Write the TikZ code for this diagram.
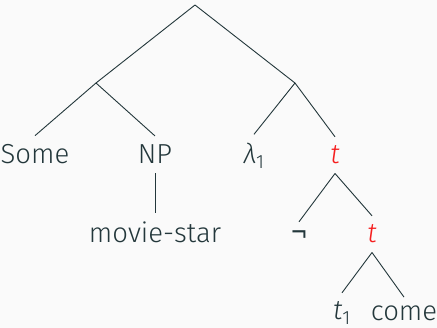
\documentclass[tikz,border=0pt]{standalone}
\usepackage{fontspec}
\setmainfont{Fira Sans Light}[ItalicFont={Fira Sans Light Italic}]
\definecolor{fg}{HTML}{23373B}
\definecolor{bg}{HTML}{FAFAFA}
\definecolor{hl}{HTML}{F51E1E}
\begin{document}
\begin{tikzpicture}[x=1pt,y=-1pt,
    every node/.style={anchor=base,inner xsep=2pt,inner ysep=9pt,text=fg,
      font=\fontsize{27.5}{32}\selectfont},
    typ/.style={text=hl,font=\fontsize{27.5}{32}\selectfont\itshape}]
      \fill[bg] (0,0) rectangle (437,328);
      \useasboundingbox (0,0) rectangle (437,328);
      \coordinate (root) at (195,5);
      \coordinate (left) at (96,83);
      \coordinate (right) at (295,83);
      \draw
        (35,164) node (some){Some}
        (155,164) node (np){NP}
        (254,164) node (lam){\itshape λ\textsubscript{\upshape 1}}
        (335,164) node[typ] (t){t}
        (155,243) node (star){movie-star}
        (299,243) node[text height=12pt] (neg){\raisebox{-3pt}{\scalebox{1.3}[1.55]{¬}}}
        (372,243) node[typ] (tt){t}
        (342,320) node (trace){\itshape t\textsubscript{\upshape 1}}
        (404,321) node (come){come};
      \begin{scope}[fg,line width=0.9pt]
        \draw (root) to (left);
        \draw (root) to (right);
        \draw (left) to (some.north);
        \draw (left) to (np.north);
        \draw (right) to (lam.north);
        \draw (right) to (t.north);
        \draw (np.south) to (star.north);
        \draw (t.south) to (neg.north);
        \draw (t.south) to (tt.north);
        \draw (tt.south) to (trace.north);
        \draw (tt.south) to (come.north);
      \end{scope}
    \end{tikzpicture}
\end{document}
